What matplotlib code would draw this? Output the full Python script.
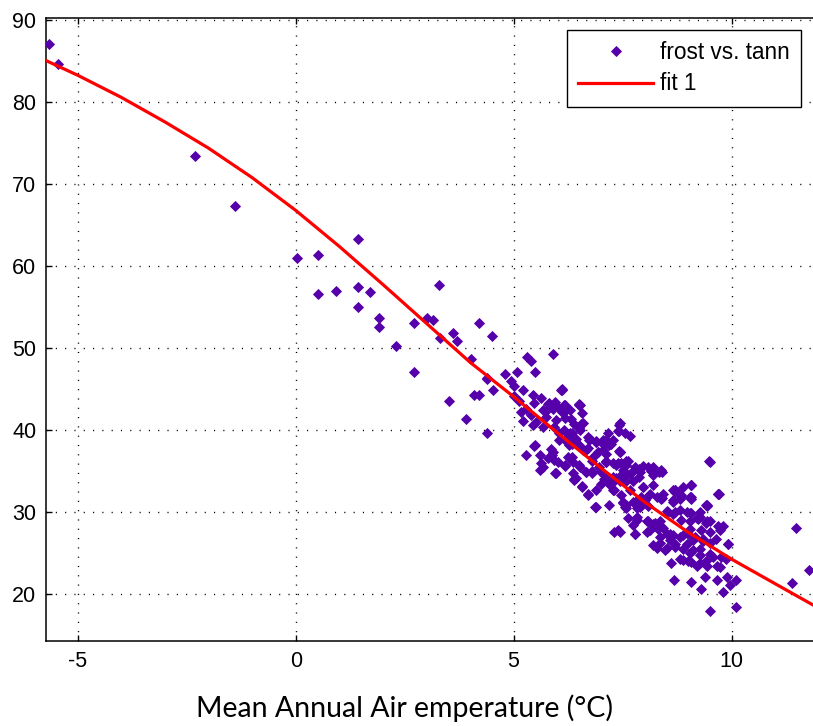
import matplotlib
matplotlib.use("Agg")
import matplotlib.pyplot as plt
from matplotlib.lines import Line2D

# Mean annual air temperature (°C) and frost days per station
tann = [
    -5.67, -5.46, -2.30, -1.39,
    0.03, 0.52, 1.42, 0.52, 0.93, 1.42, 1.70, 1.42, 1.91, 1.91, 2.31, 2.71, 2.71,
    3.29, 3.01, 3.14, 3.31, 3.61, 3.71, 4.20, 4.03, 4.38, 3.51, 4.09, 4.20, 3.91,
    4.40, 4.50,
    4.81, 5.07, 4.94, 4.38, 4.52, 5.02, 5.00, 5.13, 5.21, 5.44, 5.63, 5.47, 5.82,
    6.09, 5.78, 6.05, 6.16, 6.51, 6.58, 5.17, 5.28, 5.21, 5.40, 5.51, 5.44, 5.67,
    5.93, 6.05, 6.16, 6.35, 6.51, 6.70, 6.89, 7.08, 7.16, 6.28, 6.51, 6.70, 6.93,
    5.86, 6.05, 5.47, 5.28, 5.93, 6.35, 5.91, 5.30, 5.41, 5.50,
    6.11, 6.16, 6.51, 6.12, 6.31, 6.39, 6.54, 7.41, 7.41, 7.67, 6.24, 6.17, 6.28,
    6.74, 6.89, 7.12, 7.27, 6.51, 6.66, 7.04, 7.20, 7.43, 6.81, 7.12, 7.27, 7.46,
    7.62, 6.19, 6.39, 7.88, 8.15, 8.34, 6.81, 7.00, 7.12, 7.27, 7.43, 7.58, 7.73,
    7.88, 6.58, 6.89, 7.00, 6.70, 7.27, 7.46, 7.66, 7.96, 8.11, 7.92, 8.30, 8.65,
    8.84, 8.88, 6.89, 7.20, 7.58, 7.81,
    7.42, 7.40, 7.59, 7.78, 7.97, 8.20, 8.40, 9.49, 7.29, 7.51, 7.67, 7.98, 8.20,
    7.30, 9.08, 8.70, 8.81, 9.08, 8.66, 9.69, 9.43, 8.40, 7.51, 7.59, 7.82, 7.97,
    8.09, 8.51, 8.66, 8.97, 9.27, 7.82, 8.05, 8.20, 8.36, 9.04, 9.23, 9.43, 9.73,
    9.81, 7.30, 7.40, 7.78, 8.13, 8.32, 8.51, 8.66, 8.81, 9.00, 9.16, 9.35, 9.50,
    9.92, 8.36, 8.51, 8.70, 8.89, 9.04, 9.27, 9.50, 8.81, 9.00, 9.20, 9.43, 9.66,
    9.88,
    9.08, 8.70, 9.08, 9.71, 8.39, 8.13, 9.43, 8.70, 9.04, 9.27, 9.50, 9.69, 8.24,
    8.43, 8.59, 8.89, 9.12, 9.35, 8.28, 9.91, 8.89, 9.08, 9.27, 9.43, 9.77, 9.73,
    8.62, 11.49, 11.78, 11.38, 8.68, 9.08, 9.39, 9.89, 10.11, 9.96, 9.81, 9.31,
    9.50, 10.11, 9.66,
    5.50, 5.60, 5.63, 5.88, 5.60, 5.97, 6.19, 6.39, 6.58, 6.70, 6.87, 6.51, 6.66,
    6.81, 6.97, 7.12, 7.08, 7.20, 7.27,
    6.10, 5.79, 5.94, 5.91, 6.17, 6.14, 6.29, 6.52, 5.68, 5.75, 5.98, 6.17, 6.59,
    6.52, 6.29, 6.44, 6.33, 6.75, 6.90, 7.05, 7.44, 7.40, 7.55, 7.24, 7.44, 6.59,
    6.82, 6.94, 7.13, 5.91, 5.79, 6.02, 5.68, 6.25, 6.37, 6.52, 6.67, 7.13, 7.36,
    7.51, 5.94, 6.37, 6.44, 7.36, 7.55,
    7.59, 7.70, 7.90, 8.09, 8.20, 8.39, 7.44, 7.59, 9.08, 9.50, 9.69, 8.43, 8.39,
    8.70, 8.85, 9.04, 8.66, 7.51, 7.55, 7.74, 7.90, 8.01, 9.42, 8.55, 8.81, 9.08,
    7.63, 7.82, 7.74, 8.09, 8.20, 8.05, 7.44, 7.78, 8.85, 9.20, 9.42, 9.04, 9.31,
    9.50, 8.35, 8.58, 8.70, 8.20, 8.47, 8.97, 9.12, 9.27, 9.65, 9.58,
]
frost = [
    87.1, 84.7, 73.4, 67.3,
    60.95, 61.4, 63.35, 56.6, 57.0, 57.5, 56.8, 55.0, 53.7, 52.6, 50.2, 53.1, 47.0,
    57.7, 53.7, 53.4, 51.2, 51.8, 50.8, 53.1, 48.6, 46.3, 43.5, 44.2, 44.2, 41.3,
    39.6, 51.5,
    46.8, 47.1, 45.9, 46.2, 44.8, 45.3, 44.1, 43.5, 44.8, 44.3, 43.9, 43.3, 43.3,
    44.8, 42.5, 42.7, 42.2, 43.0, 42.0, 42.2, 42.6, 41.1, 41.8, 41.0, 40.6, 40.4,
    40.4, 39.6, 40.0, 39.6, 40.2, 39.1, 38.6, 38.2, 39.6, 38.6, 38.0, 37.8, 37.3,
    37.6, 38.8, 38.0, 36.9, 36.3, 36.7, 49.3, 48.9, 48.4, 47.1,
    45.0, 43.0, 43.1, 42.2, 41.3, 40.7, 40.7, 40.6, 39.9, 39.3, 39.5, 38.7, 38.1,
    38.7, 38.5, 38.7, 38.7, 38.1, 37.5, 37.5, 38.1, 37.3, 36.2, 36.2, 36.0, 36.0,
    36.2, 35.6, 34.0, 35.2, 35.0, 34.8, 35.0, 34.8, 34.2, 33.6, 33.8, 34.6, 33.8,
    34.2, 33.0, 32.6, 33.4, 32.0, 32.6, 32.0, 32.6, 33.0, 32.0, 31.8, 31.8, 32.6,
    31.8, 33.0, 30.6, 30.8, 30.8, 31.3,
    37.4, 36.0, 36.2, 35.4, 35.6, 35.4, 34.9, 36.2, 34.0, 34.0, 34.6, 33.0, 33.3,
    32.6, 33.2, 32.4, 31.6, 31.6, 31.4, 32.2, 30.7, 31.7, 31.1, 30.5, 30.5, 31.3,
    30.7, 30.1, 29.7, 29.9, 29.9, 29.3, 28.9, 28.5, 28.9, 28.9, 29.1, 28.9, 27.7,
    28.3, 27.5, 27.7, 27.3, 27.7, 27.9, 27.3, 27.1, 26.9, 27.3, 26.9, 26.4, 26.2,
    26.0, 26.2, 25.6, 26.0, 25.4, 25.0, 25.4, 24.8, 24.2, 24.0, 23.4, 23.4, 23.4,
    24.2,
    33.3, 32.7, 31.8, 32.2, 31.8, 32.2, 30.8, 30.0, 29.8, 29.4, 28.8, 28.2, 28.6,
    28.0, 27.3, 27.1, 26.5, 26.7, 25.5, 26.1, 24.1, 23.9, 23.7, 24.1, 24.5, 23.3,
    23.7, 28.0, 22.9, 21.3, 21.7, 21.4, 22.0, 22.0, 21.6, 21.0, 20.2, 20.6,
    17.9, 18.3, 21.6,
    38.2, 36.9, 35.9, 36.9, 35.1, 34.7, 35.7, 33.9, 33.1, 32.2, 30.6, 35.7, 34.9,
    34.7, 35.5, 36.1, 34.0, 33.4, 34.2,
    44.8, 43.2, 43.4, 42.6, 43.0, 42.2, 42.4, 43.0, 42.4, 41.6, 41.2, 41.4, 40.8,
    40.0, 39.6, 38.9, 38.3, 38.9, 38.5, 38.7, 40.8, 39.8, 39.6, 38.3, 37.3, 37.5,
    36.7, 37.3, 37.1, 37.3, 36.5, 36.1, 35.5, 36.7, 36.1, 35.5, 34.9, 36.1, 35.7,
    35.1, 34.7, 34.7, 34.1, 34.1, 34.5,
    35.7, 34.7, 34.9, 35.5, 34.5, 35.1, 34.3, 33.7, 33.2, 36.1, 32.2, 32.2, 31.6,
    32.6, 32.0, 31.8, 31.2, 31.2, 30.6, 31.2, 30.6, 31.4, 30.8, 30.0, 30.2, 29.8,
    29.2, 29.0, 28.4, 28.8, 28.2, 27.5, 27.5, 27.3, 29.0, 29.2, 28.6, 27.9, 27.7,
    27.5, 26.9, 26.5, 25.7, 25.9, 25.3, 26.1, 25.3, 24.7, 26.7, 24.5,
]

# Fitted curve ("fit 1")
fit_x = [-5.73, -5.0, -4.0, -3.0, -2.0, -1.0, 0.0, 1.0, 2.0, 3.0, 4.0, 5.0,
         6.0, 7.0, 8.0, 9.0, 10.0, 11.0, 11.87]
fit_y = [85.1, 83.3, 80.6, 77.6, 74.4, 70.8, 66.8, 62.4, 57.75, 53.0, 48.25,
         44.05, 39.65, 35.35, 31.2, 27.5, 24.2, 21.2, 18.6]

xticks = [-5, 0, 5, 10]
yticks = [20, 30, 40, 50, 60, 70, 80, 90]
xlim = (-5.73, 11.87)
ylim = (14.2, 90.3)

W, H = 813, 726
fig = plt.figure(figsize=(W / 100, H / 100), dpi=100)
ax = fig.add_axes([46 / W, 1 - 641 / H, 1 - 46 / W, (641 - 18) / H])

tick_font = {"family": ["Liberation Sans", "DejaVu Sans"], "size": 15.5}
marker_color = "#5500aa"
ms = 5.4

ax.plot(tann, frost, linestyle="none", marker="D", ms=ms, mfc=marker_color,
        mec=marker_color, mew=0.6, zorder=3)
ax.plot(fit_x, fit_y, color="#ff0000", lw=2.3, zorder=4)

ax.set_xlim(*xlim)
ax.set_ylim(*ylim)
ax.set_xticks(xticks)
ax.set_yticks(yticks)
ax.set_xticklabels([str(v) for v in xticks], fontdict=tick_font)
ax.set_yticklabels([str(v) for v in yticks], fontdict=tick_font)
ax.tick_params(direction="in", length=4.5, width=1, top=True, right=False,
               color="black", pad=7)

ax.grid(True, color="black", linestyle=(0, (0.8, 5.9)), linewidth=1.0)
ax.set_axisbelow(True)
for side in ("left", "bottom", "top"):
    ax.spines[side].set_linewidth(1.1)
    ax.spines[side].set_color("black")
ax.spines["right"].set_visible(False)

handles = [
    Line2D([], [], linestyle="none", marker="D", ms=ms, mfc=marker_color,
           mec=marker_color, mew=0.6),
    Line2D([], [], color="#ff0000", lw=2.3),
]
leg = fig.legend(handles, ["frost vs. tann", "fit 1"], loc="upper right",
                 bbox_to_anchor=(801 / W, 1 - 30 / H), numpoints=1,
                 prop={"family": ["Liberation Sans", "DejaVu Sans"], "size": 16.3},
                 frameon=True, fancybox=False, edgecolor="black", framealpha=1,
                 handlelength=3.3, handletextpad=0.3, borderpad=0.5,
                 labelspacing=0.36, borderaxespad=0)
leg.get_frame().set_linewidth(1.0)

fig.text(404.5 / W, 1 - 708 / H, "Mean Annual Air emperature (°C)",
         ha="center", va="center", family=["Lato", "DejaVu Sans"], fontsize=20.5)

fig.savefig("out.png", dpi=100)
